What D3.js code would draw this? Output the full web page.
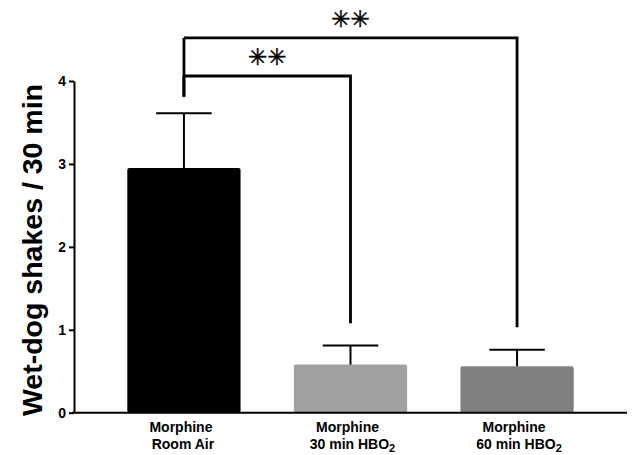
<!DOCTYPE html>
<html>
<head>
<meta charset="utf-8">
<script src="https://cdn.jsdelivr.net/npm/d3@7"></script>
<style>
  body { margin: 0; background: #fff; }
  svg { display: block; }
  text { font-family: "Liberation Sans", Arial, sans-serif; font-weight: bold; fill: #000; }
</style>
</head>
<body>
<script>
// Wet-dog shakes per 30 min, mean ± SEM for each treatment group
const drugs = ["Morphine", "Morphine", "Morphine"];
const conditions = ["Room Air", "30 min HBO", "60 min HBO"];
const subscripts = ["", "2", "2"];
const means = [2.95, 0.58, 0.56];
const sems = [0.66, 0.23, 0.20];
const yTicks = [0, 1, 2, 3, 4];

// Significance brackets: group indices, bracket height and drop ends (y units)
const compFrom = [0, 0];
const compTo = [1, 2];
const compLevel = [4.06, 4.52];
const compLeftEnd = [3.81, 3.81];
const compRightEnd = [1.08, 1.03];
const compLabel = ["\u2733\uFE0E\u2733\uFE0E", "\u2733\uFE0E\u2733\uFE0E"];

const barFill = ["#000000", "#a0a0a0", "#808080"];

const W = 632, H = 455;
const svg = d3.select("body").append("svg").attr("width", W).attr("height", H);

const x = d3.scaleBand().domain(d3.range(means.length)).range([74, 627])
  .paddingInner(0.32).paddingOuter(0.32);
const y = d3.scaleLinear().domain([0, 4]).range([412.7, 81]);

// Bars
svg.append("g").selectAll("rect").data(means).join("rect")
  .attr("x", (d, i) => x(i))
  .attr("y", d => y(d))
  .attr("width", x.bandwidth())
  .attr("height", d => y(0) - y(d))
  .attr("rx", 2)
  .attr("fill", (d, i) => barFill[i]);

// Upper error bars
const capHalf = x.bandwidth() * 0.245;
const eb = svg.append("g").attr("stroke", "#000").attr("stroke-width", 2);
means.forEach((m, i) => {
  const cx = x(i) + x.bandwidth() / 2;
  eb.append("line").attr("x1", cx).attr("x2", cx).attr("y1", y(m)).attr("y2", y(m + sems[i]));
  eb.append("line").attr("x1", cx - capHalf).attr("x2", cx + capHalf)
    .attr("y1", y(m + sems[i])).attr("y2", y(m + sems[i]));
});

// Y axis
const yAxis = svg.append("g").attr("transform", "translate(74,0)")
  .call(d3.axisLeft(y).tickValues(yTicks).tickFormat(d3.format("d")).tickSize(5).tickSizeOuter(0).tickPadding(3));
yAxis.select(".domain").attr("stroke-width", 2);
yAxis.selectAll(".tick line").attr("stroke-width", 2);
yAxis.selectAll(".tick text").style("font-size", "14px").style("font-family", "'Liberation Sans', Arial, sans-serif").style("font-weight", "bold");

// X axis baseline
const xAxis = svg.append("g").attr("transform", `translate(0,${y(0)})`)
  .call(d3.axisBottom(x).tickSize(0).tickSizeOuter(0).tickFormat(""));
xAxis.select(".domain").attr("stroke-width", 2).attr("d", `M72,0H627`);

// Category labels
const labels = svg.append("g").attr("text-anchor", "middle").style("font-size", "14px");
means.forEach((m, i) => {
  const cx = x(i) + x.bandwidth() / 2;
  labels.append("text").attr("x", cx - 3).attr("y", 432).text(drugs[i]);
  const t = labels.append("text").attr("x", cx - 1 + (subscripts[i] ? 3 : 0)).attr("y", 449);
  t.append("tspan").text(conditions[i]);
  if (subscripts[i]) {
    t.append("tspan").attr("dy", 3).style("font-size", "11px").text(subscripts[i]);
  }
});

// Y axis title
svg.append("text")
  .attr("transform", `translate(42,${(83 + 417) / 2}) rotate(-90)`)
  .attr("text-anchor", "middle")
  .style("font-size", "28.5px")
  .text("Wet-dog shakes / 30 min");

// Significance brackets with star labels
const br = svg.append("g").attr("fill", "none").attr("stroke", "#000").attr("stroke-width", 2.8);
compFrom.forEach((f, k) => {
  const x1 = x(f) + x.bandwidth() / 2;
  const x2 = x(compTo[k]) + x.bandwidth() / 2;
  br.append("path").attr("d",
    `M${x1},${y(compLevel[k])}V${y(compLeftEnd[k])}M${x1},${y(compLevel[k])}H${x2}V${y(compRightEnd[k])}`);
  svg.append("text").attr("x", (x1 + x2) / 2).attr("y", y(compLevel[k]) - 11)
    .attr("text-anchor", "middle")
    .attr("stroke", "#000").attr("stroke-width", 0.5)
    .style("font-family", "'DejaVu Sans', sans-serif")
    .style("font-weight", "normal")
    .style("font-variant-emoji", "text")
    .style("font-size", "23px")
    .text(compLabel[k]);
});
</script>
</body>
</html>
